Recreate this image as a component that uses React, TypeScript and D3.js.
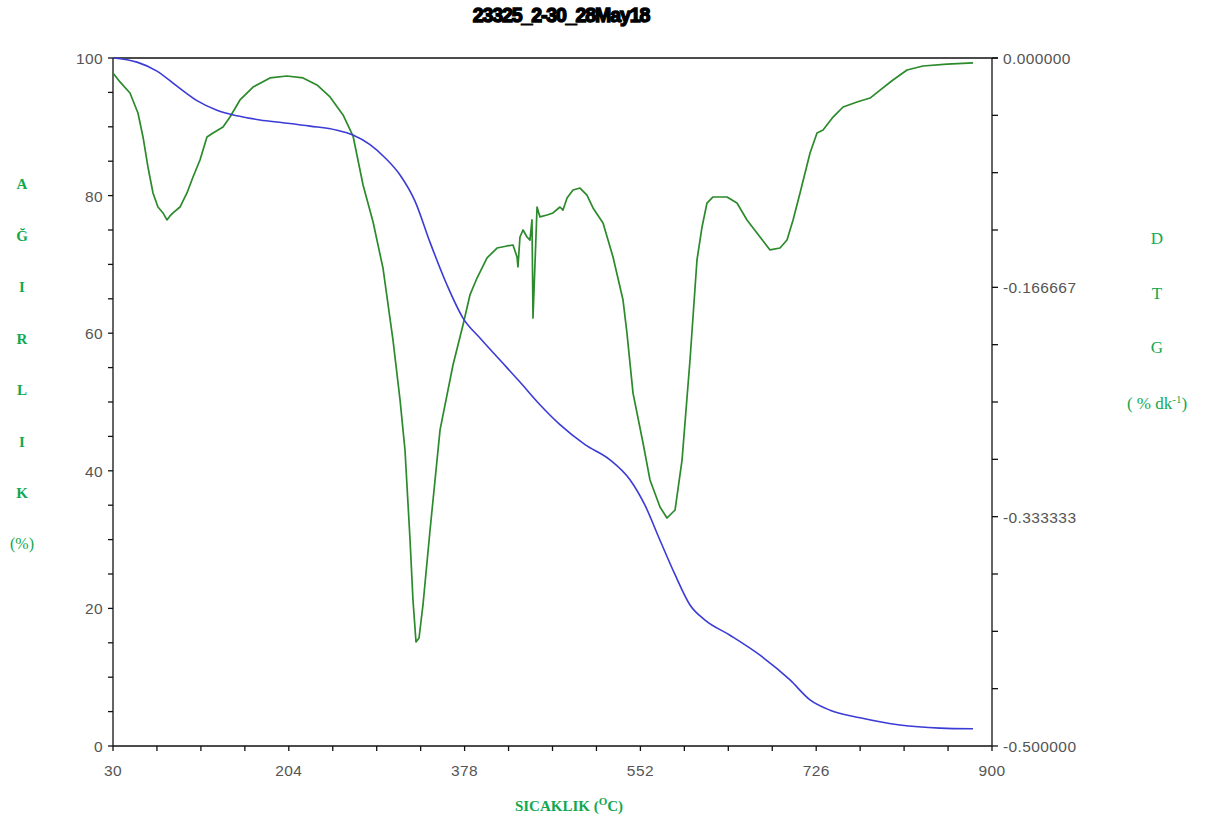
import React from "react";
import * as d3 from "d3";

const tgTemp = [30, 53.8, 73.5, 93.3, 113.1, 132.9, 152.7, 175.5, 198.3, 225.0, 251.7, 267.5, 284.4, 299.2, 314.1, 328.9, 343.8, 360.6, 376.4, 393.2, 413.0, 432.8, 452.6, 472.4, 497.2, 521.9, 541.7, 556.5, 571.4, 586.3, 601.1, 616.0, 640.7, 670.4, 700.1, 719.9, 739.7, 769.4, 808.9, 848.5, 881.2];
const tgWeight = [100, 99.4, 98.1, 95.9, 93.8, 92.4, 91.6, 91.0, 90.6, 90.1, 89.5, 88.8, 87.4, 85.5, 83.0, 79.2, 73.2, 67.0, 62.2, 59.3, 56.1, 52.9, 49.6, 46.7, 43.8, 41.6, 38.7, 35.0, 29.9, 24.9, 20.5, 18.3, 16.1, 13.2, 9.6, 6.7, 5.2, 4.1, 3.05, 2.6, 2.5];

const dtgTemp = [30.0, 36.9, 46.8, 54.7, 59.7, 64.6, 69.6, 74.5, 79.5, 83.4, 86.4, 89.4, 96.3, 103.2, 109.2, 116.1, 123.0, 129.0, 138.9, 145.8, 155.7, 168.6, 185.4, 202.2, 218.1, 231.9, 244.8, 257.7, 267.6, 277.5, 287.4, 297.2, 307.1, 314.1, 319.0, 324.0, 326.9, 329.9, 332.9, 336.8, 343.8, 353.7, 366.5, 376.4, 383.3, 390.3, 400.2, 410.1, 420.0, 425.9, 429.9, 430.8, 432.8, 435.8, 439.8, 442.7, 444.7, 445.7, 447.7, 449.7, 452.6, 459.6, 465.5, 472.4, 475.4, 479.4, 485.3, 492.2, 499.1, 505.1, 515.0, 524.9, 534.8, 538.7, 544.7, 554.6, 561.5, 571.4, 578.3, 586.3, 593.2, 601.1, 608.0, 613.0, 617.9, 623.9, 637.7, 647.6, 657.5, 670.4, 680.3, 690.2, 697.1, 703.1, 710.0, 719.9, 726.8, 732.8, 742.7, 752.6, 766.4, 779.3, 789.2, 802.0, 815.9, 831.7, 855.5, 881.2];
const dtgValue = [-0.0109, -0.0174, -0.0254, -0.0400, -0.0574, -0.0792, -0.0981, -0.1083, -0.1126, -0.1177, -0.1148, -0.1126, -0.1083, -0.0981, -0.0865, -0.0741, -0.0574, -0.0545, -0.0501, -0.0429, -0.0305, -0.0211, -0.0145, -0.0131, -0.0145, -0.0196, -0.0283, -0.0414, -0.0567, -0.0923, -0.1192, -0.1526, -0.2049, -0.2485, -0.2849, -0.3503, -0.3939, -0.4244, -0.4215, -0.3975, -0.3430, -0.2703, -0.2231, -0.1940, -0.1722, -0.1599, -0.1453, -0.1381, -0.1366, -0.1359, -0.1446, -0.1519, -0.1301, -0.1250, -0.1301, -0.1323, -0.1177, -0.1890, -0.1490, -0.1083, -0.1155, -0.1141, -0.1126, -0.1083, -0.1105, -0.1017, -0.0959, -0.0945, -0.0996, -0.1090, -0.1199, -0.1446, -0.1759, -0.1999, -0.2435, -0.2798, -0.3067, -0.3263, -0.3343, -0.3285, -0.2922, -0.2195, -0.1468, -0.1228, -0.1054, -0.1010, -0.1010, -0.1054, -0.1177, -0.1301, -0.1395, -0.1381, -0.1323, -0.1177, -0.0981, -0.0690, -0.0545, -0.0523, -0.0429, -0.0356, -0.0320, -0.0291, -0.0233, -0.0160, -0.0087, -0.0058, -0.0044, -0.0036];

const xMajorTicks = [30, 204, 378, 552, 726, 900];
const yLeftTicks = [0, 20, 40, 60, 80, 100];
const yRightTicks = [0, -0.166667, -0.333333, -0.5];
const yRightLabels = ["0.000000", "-0.166667", "-0.333333", "-0.500000"];
const leftLetters = ["A", "Ğ", "I", "R", "L", "I", "K"];
const rightLetters = ["D", "T", "G"];
const title = "23325_2-30_28May18";

const W = 1217, H = 823;
const L = 113, R = 992, T = 58, B = 746;
const GREEN_TXT = "#12a84e";

export default function App() {
  const x = d3.scaleLinear().domain([30, 900]).range([L, R]);
  const yL = d3.scaleLinear().domain([0, 100]).range([B, T]);
  const yR = d3.scaleLinear().domain([-0.5, 0]).range([B, T]);

  const tgLine = d3.line<number>().x((d, i) => x(tgTemp[i])).y((d) => yL(d)).curve(d3.curveMonotoneX);
  const dtgLine = d3.line<number>().x((d, i) => x(dtgTemp[i])).y((d) => yR(d));

  const xMinor = d3.range(0, 21).map((i) => 30 + i * 43.5);
  const yMinor = d3.range(0, 21).map((i) => i * 5);
  const rMinor = d3.range(0, 13).map((i) => -0.5 + i * (0.5 / 12));

  const tickFont = { fontFamily: "Liberation Sans, Arial, sans-serif", fontSize: 15.5, fill: "#555", letterSpacing: 0.4 };

  return (
    <svg width={W} height={H} style={{ position: "absolute", left: 0, top: 0, background: "#fff" }}>
      <text x={561} y={22} textAnchor="middle" fontFamily="Liberation Sans Narrow, Liberation Sans, Arial, sans-serif" fontWeight="bold" fontSize={19.5} letterSpacing={-1.1} stroke="#000" strokeWidth={1.4} fill="#000">{title}</text>

      {/* frame */}
      <line x1={L} y1={T} x2={R + 6} y2={T} stroke="#111" strokeWidth={1.3} />
      <line x1={L} y1={T} x2={L} y2={B} stroke="#111" strokeWidth={1.3} />
      <line x1={L} y1={B} x2={R} y2={B} stroke="#111" strokeWidth={1.3} />
      <line x1={R} y1={T} x2={R} y2={B} stroke="#111" strokeWidth={1.3} />

      {/* x ticks */}
      {xMinor.map((v, i) => (
        <line key={"xm" + i} x1={x(v)} x2={x(v)} y1={B} y2={B + 5} stroke="#111" strokeWidth={1.3} />
      ))}
      {xMajorTicks.map((v) => (
        <text key={"xl" + v} x={x(v)} y={776} textAnchor="middle" {...tickFont}>{v}</text>
      ))}
      {/* left ticks */}
      {yMinor.map((v, i) => (
        <line key={"ym" + i} x1={L - 5} x2={L} y1={yL(v)} y2={yL(v)} stroke="#111" strokeWidth={1.3} />
      ))}
      {yLeftTicks.map((v) => (
        <text key={"yl" + v} x={103} y={yL(v) + 6} textAnchor="end" {...tickFont}>{v}</text>
      ))}
      {/* right ticks */}
      {rMinor.map((v, i) => (
        <line key={"rm" + i} x1={R} x2={R + 6} y1={yR(v)} y2={yR(v)} stroke="#111" strokeWidth={1.3} />
      ))}
      {yRightTicks.map((v, i) => (
        <text key={"rl" + i} x={1003} y={yR(v) + 6} textAnchor="start" {...tickFont}>{yRightLabels[i]}</text>
      ))}

      {/* curves */}
      <path d={dtgLine(dtgValue) || ""} fill="none" stroke="#2b8a2b" strokeWidth={1.7} strokeLinejoin="round" />
      <path d={tgLine(tgWeight) || ""} fill="none" stroke="#3b3bd6" strokeWidth={1.6} />

      {/* left axis label */}
      {leftLetters.map((c, i) => (
        <text key={"ll" + i} x={22} y={189 + i * 51.5} textAnchor="middle" fontFamily="Liberation Serif, Times New Roman, serif" fontWeight="bold" fontSize={15} fill={GREEN_TXT}>{c}</text>
      ))}
      <text x={22} y={549} textAnchor="middle" fontFamily="Liberation Serif, Times New Roman, serif" fontSize={16} fill={GREEN_TXT}>(%)</text>

      {/* right axis label */}
      {rightLetters.map((c, i) => (
        <text key={"rl2" + i} x={1157} y={244 + i * 54.5} textAnchor="middle" fontFamily="Liberation Serif, Times New Roman, serif" fontSize={17} fill={GREEN_TXT}>{c}</text>
      ))}
      <text x={1157} y={409} textAnchor="middle" fontFamily="Liberation Serif, Times New Roman, serif" fontSize={17} fill={GREEN_TXT}>
        ( % dk<tspan dy={-6} fontSize={11}>-1</tspan><tspan dy={6}>)</tspan>
      </text>

      {/* x axis label */}
      <text x={569} y={811} textAnchor="middle" fontFamily="Liberation Serif, Times New Roman, serif" fontWeight="bold" fontSize={15} fill={GREEN_TXT}>
        SICAKLIK (<tspan dy={-6} fontSize={11}>O</tspan><tspan dy={6}>C)</tspan>
      </text>
    </svg>
  );
}
